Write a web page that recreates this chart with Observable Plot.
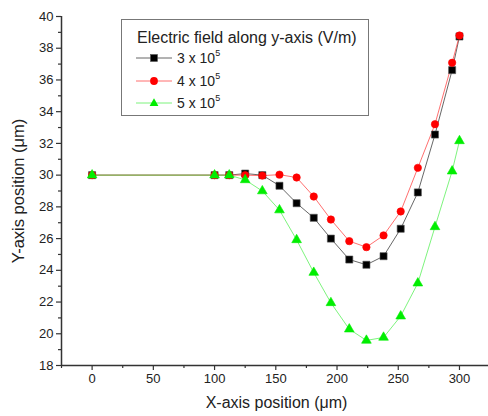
<!DOCTYPE html>
<html><head><meta charset="utf-8">
<script src="https://cdn.jsdelivr.net/npm/d3@7"></script>
<script src="https://cdn.jsdelivr.net/npm/@observablehq/plot@0.6"></script>
<style>
body{margin:0;background:#fff;}
#wrap{position:relative;width:488px;height:416px;font-family:"Liberation Sans",Arial,sans-serif;}
#legend{position:absolute;left:121px;top:19px;width:248px;height:97px;border:1px solid #777;box-sizing:border-box;background:#fff;color:#222;}
#legend .title{position:absolute;left:15px;top:9px;font-size:16px;line-height:18px;white-space:nowrap;}
#legend .row{position:absolute;left:14px;height:16px;display:flex;align-items:center;font-size:14px;white-space:nowrap;}
#legend .row svg{margin-right:5px;}
#legend sup{font-size:9px;vertical-align:7px;line-height:0;}
</style></head><body><div id="wrap"></div>
<script>
const xPos   = [0,100,112,125,139,153,167,181,195,210,224,238,252,266,280,294,300];
const yBlack = [30,30,30,30.1,30.0,29.33,28.23,27.31,26.0,24.68,24.35,24.89,26.62,28.91,32.56,36.62,38.74];
const yRed   = [30,30,30,30.0,29.97,30.03,29.85,28.65,27.2,25.84,25.46,26.2,27.71,30.46,33.21,37.08,38.8];
const yGreen = [30,30,30,29.7,29.0,27.8,25.92,23.86,21.95,20.29,19.58,19.77,21.11,23.19,26.74,30.25,32.16];
const seriesNames = ["3 x 10","4 x 10","5 x 10"];
const seriesExp = ["5","5","5"];
const legendTitle = "Electric field along y-axis (V/m)";
const xTicks = [0,50,100,150,200,250,300];
const xMinor = [-25,25,75,125,175,225,275];
const yTicks = [18,20,22,24,26,28,30,32,34,36,38,40];
const yMinor = [19,21,23,25,27,29,31,33,35,37,39];
const xLabel = "X-axis position (μm)";
const yLabel = "Y-axis position (μm)";

const styles = [
  {symbol:"square", fill:"#000000", stroke:"#555", line:"#404040", r:4},
  {symbol:"circle", fill:"#ff0000", stroke:"#ff0000", line:"#ff4a4a", r:3.7},
  {symbol:"triangle", fill:"#00ee00", stroke:"#00ee00", line:"#5cf05c", r:3.6}
];
const ySeries = [yBlack, yRed, yGreen];
const data = ySeries.map((ys, s) => xPos.map((x, i) => ({x, y: ys[i], s})));

const marks = [];
data.forEach((d, s) => {
  marks.push(Plot.line(d, {x:"x", y:"y", stroke: styles[s].line, strokeWidth: 0.8}));
});
data.forEach((d, s) => {
  marks.push(Plot.dot(d, {x:"x", y:"y", symbol: styles[s].symbol, r: styles[s].r, fill: styles[s].fill, stroke: styles[s].stroke, strokeWidth: 0.6}));
});

const axisColor = "#333";
const chart = Plot.plot({
  width: 488, height: 416,
  marginLeft: 61, marginRight: 0, marginTop: 16, marginBottom: 51,
  style: {fontFamily: '"Liberation Sans", Arial, sans-serif', fontSize: "13px", color: "#222", background: "#fff"},
  x: {domain: [-25, 323.7]},
  y: {domain: [18, 40]},
  marks: [
    Plot.axisX(xTicks, {tickSize: 5, tickPadding: 3, stroke: axisColor, strokeWidth: 1.2, label: null, fill: "#222"}),
    Plot.axisX(xMinor, {tickSize: 3, tickFormat: () => "", stroke: axisColor, strokeWidth: 1.2, label: null}),
    Plot.axisY(yTicks, {tickSize: 5, tickPadding: 3, stroke: axisColor, strokeWidth: 1.2, label: null, fill: "#222"}),
    Plot.axisY(yMinor, {tickSize: 3, tickFormat: () => "", stroke: axisColor, strokeWidth: 1.2, label: null}),
    Plot.axisY([], {tickSize: 0, label: yLabel, labelAnchor: "center", labelArrow: "none", labelOffset: 49, fontSize: 16.5, fill: "#222", dy: 8}),
    ...marks,
    Plot.ruleX([-25], {stroke: axisColor, strokeWidth: 1.5}),
    Plot.ruleY([18], {stroke: axisColor, strokeWidth: 1.5}),
    Plot.text([xLabel], {frameAnchor: "bottom", dx: 1.5, dy: 42, fontSize: 16, fill: "#222"})
  ]
});
const wrap = document.getElementById("wrap");
wrap.appendChild(chart);

// legend
const leg = document.createElement("div");
leg.id = "legend";
let html = `<div class="title">${legendTitle}</div>`;
const symPath = {
  square: (st) => `<rect x="${18-3.5}" y="${8-3.5}" width="7" height="7" fill="${st.fill}" stroke="${st.stroke}" stroke-width="0.6"/>`,
  circle: (st) => `<circle cx="18" cy="8" r="3.9" fill="${st.fill}"/>`,
  triangle: (st) => `<path d="M18,3.3 L22.4,10.9 L13.6,10.9 Z" fill="${st.fill}"/>`
};
seriesNames.forEach((name, s) => {
  const st = styles[s];
  const top = 30 + s * 22.5;
  html += `<div class="row" style="top:${top}px"><svg width="36" height="16"><line x1="0" y1="8" x2="36" y2="8" stroke="${st.line}" stroke-width="0.8"/>${symPath[st.symbol](st)}</svg><span>${name}<sup>${seriesExp[s]}</sup></span></div>`;
});
leg.innerHTML = html;
wrap.appendChild(leg);
</script>
</body></html>
